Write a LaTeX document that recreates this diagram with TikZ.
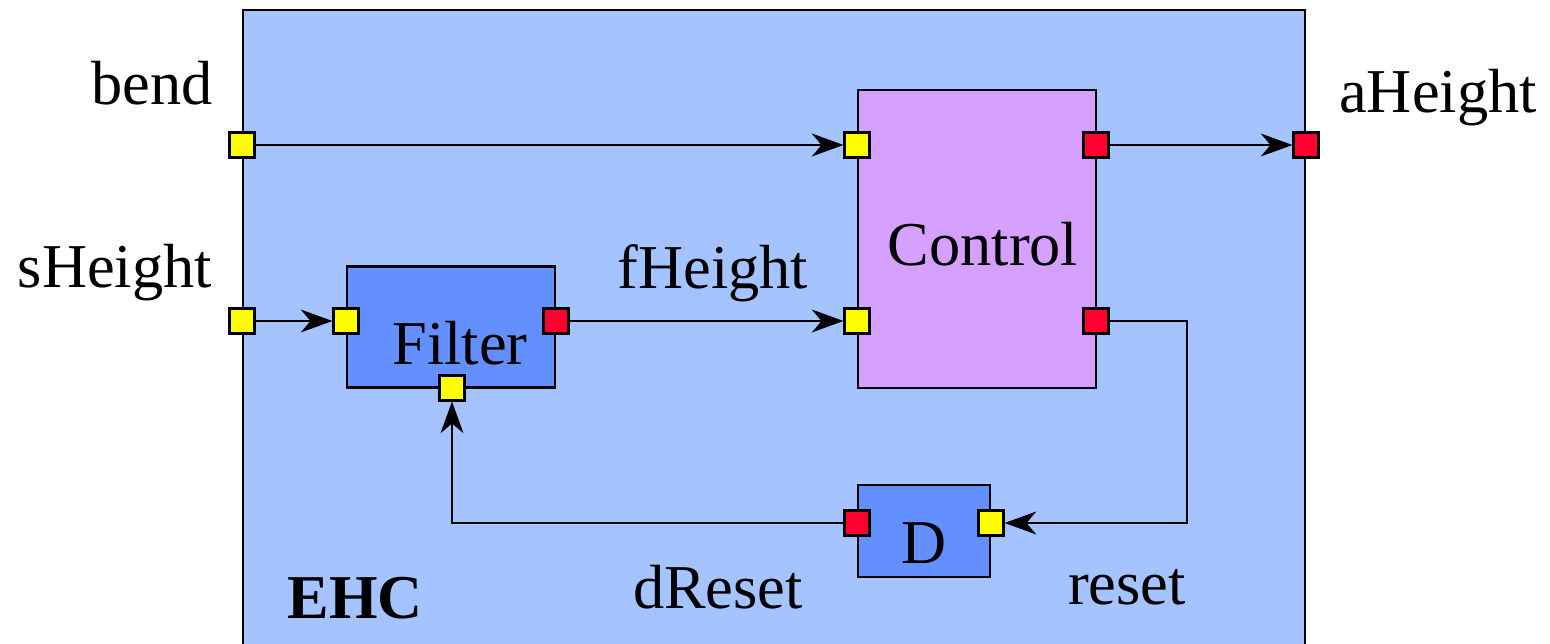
\documentclass[tikz,border=0pt]{standalone}
\usepackage{fontspec}
\setmainfont{Liberation Serif}
\usetikzlibrary{arrows.meta,positioning}

\definecolor{ehcblue}{HTML}{A5C3FF}
\definecolor{blockblue}{HTML}{6490FF}
\definecolor{ctrlviolet}{HTML}{D5A0FF}
\definecolor{portred}{HTML}{FF0030}
\definecolor{portyellow}{HTML}{FFFF00}

\tikzset{
  block/.style={draw, line width=1.4pt, inner sep=0pt},
  inport/.style={draw, fill=portyellow, line width=1.4pt, minimum size=14pt, inner sep=0pt},
  outport/.style={inport, fill=portred},
  flow/.style={line width=1.5pt, -{Stealth[length=18pt,width=13pt,inset=5.5pt]}},
  lbl/.style={inner sep=0pt, font=\fontsize{35.5}{40}\selectfont}
}

\begin{document}
\begin{tikzpicture}[x=0.02cm,y=-0.02cm]
\useasboundingbox (0,0) rectangle (1550,644);
\clip (0,0) rectangle (1550,644);

% Bloc englobant
\node[block, fill=ehcblue, minimum width=21.24cm, minimum height=13.8cm] (ehc) at (774,355) {};
\node[lbl, font=\fontsize{35.5}{40}\selectfont\bfseries] (ehclbl) at (355,598) {EHC};

% Sous-blocs
\node[block, fill=ctrlviolet, minimum width=4.76cm, minimum height=5.96cm] (ctrl) at (977,239) {};
\node[block, fill=blockblue, minimum width=4.16cm, minimum height=2.42cm] (filter) at (451,327) {};
\node[block, fill=blockblue, minimum width=2.64cm, minimum height=1.84cm] (dblk) at (924,531) {};
\node[lbl] (ctrllbl) at (983,244) {Control};
\node[lbl] (filterlbl) at (460,343) {Filter};
\node[lbl] (dlbl) at (924,543) {D};

% Ports
\node[inport] (bendp) at (242,145) {};
\node[inport] (sheightp) at (242,321) {};
\node[outport] (aheightp) at (1306,145) {};
\node[inport] (cin1) at (857,145) {};
\node[inport] (cin2) at (857,321) {};
\node[outport] (cout1) at (1096,145) {};
\node[outport] (cout2) at (1096,321) {};
\node[inport] (fin) at (346,321) {};
\node[outport] (fout) at (556,321) {};
\node[inport] (fbot) at (452,388) {};
\node[outport] (dout) at (857,523) {};
\node[inport] (din) at (991,523) {};

% Noms des signaux
\node[lbl] (bendlbl) at (152,83) {bend};
\node[lbl] (sheightlbl) at (115,273) {sHeight};
\node[lbl] (aheightlbl) at (1438,98) {aHeight};
\node[lbl] (fheightlbl) at (713,273) {fHeight};
\node[lbl] (dresetlbl) at (718,587) {dReset};
\node[lbl] (resetlbl) at (1127,587) {reset};

% Liaisons
\coordinate (turn) at (1187,321);
\draw[flow] (bendp) -- (cin1);
\draw[flow] (sheightp) -- (fin);
\draw[flow] (fout) -- (cin2);
\draw[flow] (cout1) -- (aheightp);
\draw[flow] (cout2) -- (turn) |- (din);
\draw[flow] (dout) -| (fbot);

\end{tikzpicture}
\end{document}
